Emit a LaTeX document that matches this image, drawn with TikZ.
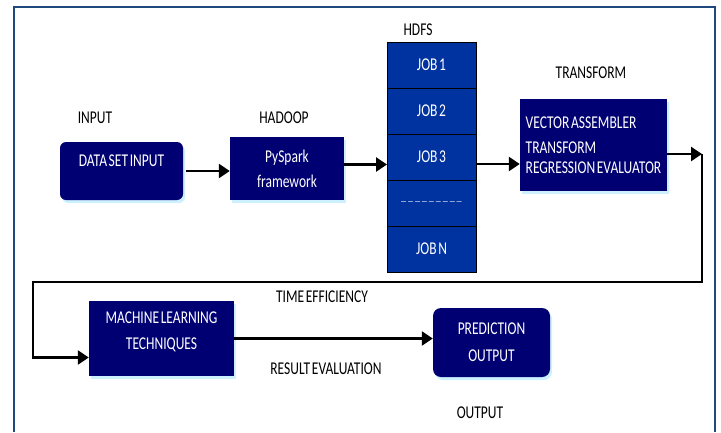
\documentclass[tikz,border=0pt]{standalone}
\usepackage{fontspec}
\setmainfont{Carlito}[FakeStretch=0.75, WordSpace=0.55]
\usetikzlibrary{arrows.meta,positioning,shadows}

\definecolor{navy}{RGB}{0,0,115}
\definecolor{jobblue}{RGB}{0,51,160}
\definecolor{framecol}{RGB}{31,73,125}
\definecolor{glow}{RGB}{205,240,255}

\begin{document}
\begin{tikzpicture}[
  x=1pt, y=-1pt,
  font=\fontsize{18}{20}\selectfont,
  arr/.style={-{Triangle[length=11pt,width=14pt]}, line width=2.5pt},
  navybox/.style={fill=navy, text=white, align=center, inner sep=0pt,
    drop shadow={fill=glow, shadow xshift=2pt, shadow yshift=-3pt, opacity=1}},
  jobcell/.style={draw=black, line width=1pt, fill=jobblue, text=white,
    minimum width=89pt, minimum height=46pt, inner sep=0pt, outer sep=0pt},
  lbl/.style={text=black, inner sep=0pt},
]
\useasboundingbox (0,0) rectangle (721,432);

% ── outer frame ─────────────────────────────────────────────────────────────
\draw[framecol, line width=2pt] (14,432) -- (14,7) -- (715,7) -- (715,432);

% ── top row: input, hadoop, hdfs, transform ─────────────────────────────────
\node[navybox, rounded corners=6pt, minimum width=123pt, minimum height=58pt]
  (data) at (121.5,171) {DATA SET INPUT\\\mbox{}};
\node[navybox, minimum width=114pt, minimum height=63pt]
  (spark) at (287,168.5) {PySpark\\[5pt]framework};

\node[jobcell] (job1) at (431.5,65) {JOB 1};
\node[jobcell, below=0pt of job1] (job2) {JOB 2};
\node[jobcell, below=0pt of job2] (job3) {JOB 3};
\node[jobcell, below=0pt of job3] (jobdots)
  {\fontsize{9}{9}\selectfont --- --- --- --- --- --- --- --- ---};
\node[jobcell, below=0pt of jobdots] (jobn) {JOB N};

\node[navybox, align=left, minimum width=147pt, minimum height=92pt]
  (trans) at (593.5,145)
  {VECTOR ASSEMBLER\\[5pt]TRANSFORM\\REGRESSION EVALUATOR};

\node[lbl] (inlbl)    at (95,118)  {INPUT};
\node[lbl] (hadlbl)   at (284,118) {HADOOP};
\node[lbl] (hdfslbl)  at (418,30)  {HDFS};
\node[lbl] (translbl) at (591,73)  {TRANSFORM};

% ── bottom row: learning and output ─────────────────────────────────────────
\node[navybox, minimum width=145pt, minimum height=75pt]
  (ml) at (161.5,338.5) {MACHINE LEARNING\\[6pt]TECHNIQUES\\[-4pt]\mbox{}};
\node[navybox, rounded corners=8pt, minimum width=117pt, minimum height=69pt]
  (pred) at (491.5,342.5) {PREDICTION\\[7pt]OUTPUT};

\node[lbl] (timelbl) at (322,297) {TIME EFFICIENCY};
\node[lbl] (evallbl) at (326,369) {RESULT EVALUATION};
\node[lbl] (outlbl)  at (480,413) {OUTPUT};

% ── arrows ──────────────────────────────────────────────────────────────────
\draw[arr, shorten <=3pt] (data.east) -- (data.east -| spark.west);
\draw[arr] ([yshift=4pt]spark.east) -- ([yshift=4pt]spark.east -| job3.west);
\draw[arr] ([yshift=-7pt]job3.east) -- ([yshift=-7pt]job3.east -| trans.west);

% loop back from transform down to the learning box
\coordinate (turn) at (702,154);
\coordinate (back) at (33,282);
\draw[arr] ([yshift=-9pt]trans.east) -- (turn);
\draw[arr] (turn) |- (back) |- ([yshift=-19pt]ml.west);

\draw[arr] (ml.east) -- (ml.east -| pred.west);
\end{tikzpicture}
\end{document}
